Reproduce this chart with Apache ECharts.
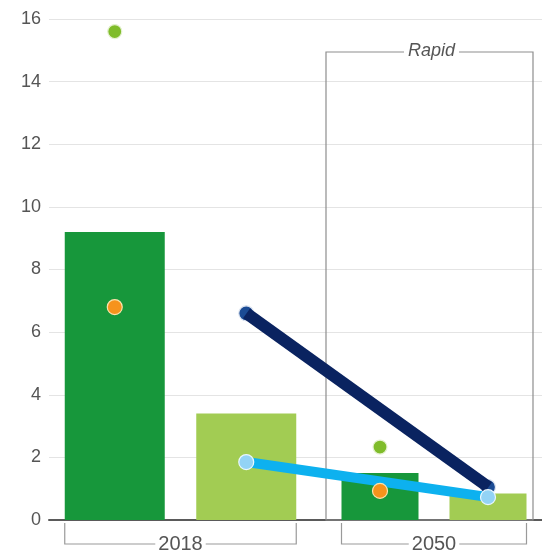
<!DOCTYPE html>
<html>
<head>
<meta charset="utf-8">
<script src="https://cdn.jsdelivr.net/npm/echarts@6/dist/echarts.min.js"></script>
<style>
  html, body { margin: 0; padding: 0; background: #fff; }
  #main { width: 542px; height: 556px; }
</style>
</head>
<body>
<div id="main"></div>
<script>
// data
var years = ['2018', '2050'];
var panelTitle = 'Rapid';
var slots = ['dark', 'light'];
var darkBars = [9.2, 1.5];
var lightBars = [3.4, 0.85];
var greenDots = [15.6, 2.33];
var orangeDots = [6.8, 0.93];
var navyDots = [6.6, 1.05];
var blueDots = [1.85, 0.73];
var yMax = 16;
var yStep = 2;

var FONT = 'Liberation Sans';
var chart = echarts.init(document.getElementById('main'));

// panel grids (bars + dots), one background grid for the y axis, one for the lines
var panels = [
  { left: 49, width: 263, barWidth: 100 },
  { left: 326, width: 216, barWidth: 77 }
];

var grids = [{ left: 49, right: 0, top: 19, bottom: 36 }];
var xAxes = [{
  type: 'category', gridIndex: 0, data: [''],
  axisLine: { lineStyle: { color: '#5a5a5a', width: 2 } },
  axisTick: { show: false }, axisLabel: { show: false }
}];
var yAxes = [{
  type: 'value', gridIndex: 0, min: 0, max: yMax, interval: yStep,
  axisLine: { show: false }, axisTick: { show: false },
  axisLabel: { color: '#555', fontSize: 18, fontFamily: FONT, margin: 8 },
  splitLine: { lineStyle: { color: '#e4e4e4', width: 1 } }
}];
var series = [];

function dot(g, x, v, color, border, size, z) {
  return {
    type: 'scatter', xAxisIndex: g, yAxisIndex: g, symbolSize: size,
    data: [[x, v]],
    itemStyle: { color: color, borderColor: border, borderWidth: 1.2, opacity: 1 },
    z: z
  };
}

panels.forEach(function (p, i) {
  var g = i + 1;
  grids.push({ left: p.left, width: p.width, top: 19, bottom: 36 });
  xAxes.push({ type: 'category', gridIndex: g, data: slots, show: false });
  yAxes.push({ type: 'value', gridIndex: g, min: 0, max: yMax, show: false });

  series.push({
    type: 'bar', xAxisIndex: g, yAxisIndex: g,
    barWidth: p.barWidth,
    data: [darkBars[i], lightBars[i]],
    itemStyle: {
      color: function (d) { return d.dataIndex === 0 ? '#17973b' : '#a2cc53'; }
    },
    z: 2
  });
  series.push(dot(g, 0, greenDots[i], '#7fbc2a', '#e6f2d2', 14, 5));
  series.push(dot(g, 0, orangeDots[i], '#f6931c', '#fbe2ad', 15, 5));
  series.push(dot(g, 1, navyDots[i], '#1b4b94', '#dfe6f1', 15, 3));
  series.push(dot(g, 1, blueDots[i], '#93d3f5', '#eaf7fd', 15, 5));
});

// lines joining the light-bar positions of the two panels
grids.push({ left: 246.5, width: 242, top: 19, bottom: 36 });
xAxes.push({ type: 'category', gridIndex: 3, data: years, boundaryGap: false, show: false });
yAxes.push({ type: 'value', gridIndex: 3, min: 0, max: yMax, show: false });
series.push({
  type: 'line', xAxisIndex: 3, yAxisIndex: 3, data: navyDots,
  symbol: 'none', lineStyle: { color: '#0a2360', width: 12, cap: 'butt' }, z: 4
});
series.push({
  type: 'line', xAxisIndex: 3, yAxisIndex: 3, data: blueDots,
  symbol: 'none', lineStyle: { color: '#0db1ef', width: 10, cap: 'butt' }, z: 4
});

option = {
  animation: false,
  grid: grids,
  xAxis: xAxes,
  yAxis: yAxes,
  series: series
};
chart.setOption(option);

// brackets under each panel and the "Rapid" frame
var y0 = chart.convertToPixel({ gridIndex: 0 }, [0, 0])[1];
var graphics = [];
panels.forEach(function (p, i) {
  var a = chart.convertToPixel({ gridIndex: i + 1 }, [0, 0])[0] - p.barWidth / 2;
  var b = chart.convertToPixel({ gridIndex: i + 1 }, [1, 0])[0] + p.barWidth / 2;
  graphics.push({
    type: 'polyline', z: 1,
    shape: { points: [[a, y0 + 3], [a, y0 + 24], [b, y0 + 24], [b, y0 + 3]] },
    style: { stroke: '#9a9a9a', lineWidth: 1.2, fill: null }
  });
  graphics.push({
    type: 'text', z: 10, x: (a + b) / 2, y: y0 + 24,
    style: {
      text: years[i], fill: '#555', font: '20px "' + FONT + '"',
      align: 'center', verticalAlign: 'middle',
      backgroundColor: '#fff', padding: [0, 3]
    }
  });
});
var boxL = panels[1].left;
var boxR = 533;
var boxT = 52;
graphics.push({
  type: 'rect', z: 1,
  shape: { x: boxL, y: boxT, width: boxR - boxL, height: y0 - boxT },
  style: { stroke: '#8e8e8e', lineWidth: 1.2, fill: null }
});
graphics.push({
  type: 'text', z: 10, x: (boxL + boxR) / 2 + 2, y: boxT - 1,
  style: {
    text: panelTitle, fill: '#555', font: 'italic 18px "' + FONT + '"',
    align: 'center', verticalAlign: 'middle',
    backgroundColor: '#fff', padding: [0, 4]
  }
});
chart.setOption({ graphic: graphics });
</script>
</body>
</html>
